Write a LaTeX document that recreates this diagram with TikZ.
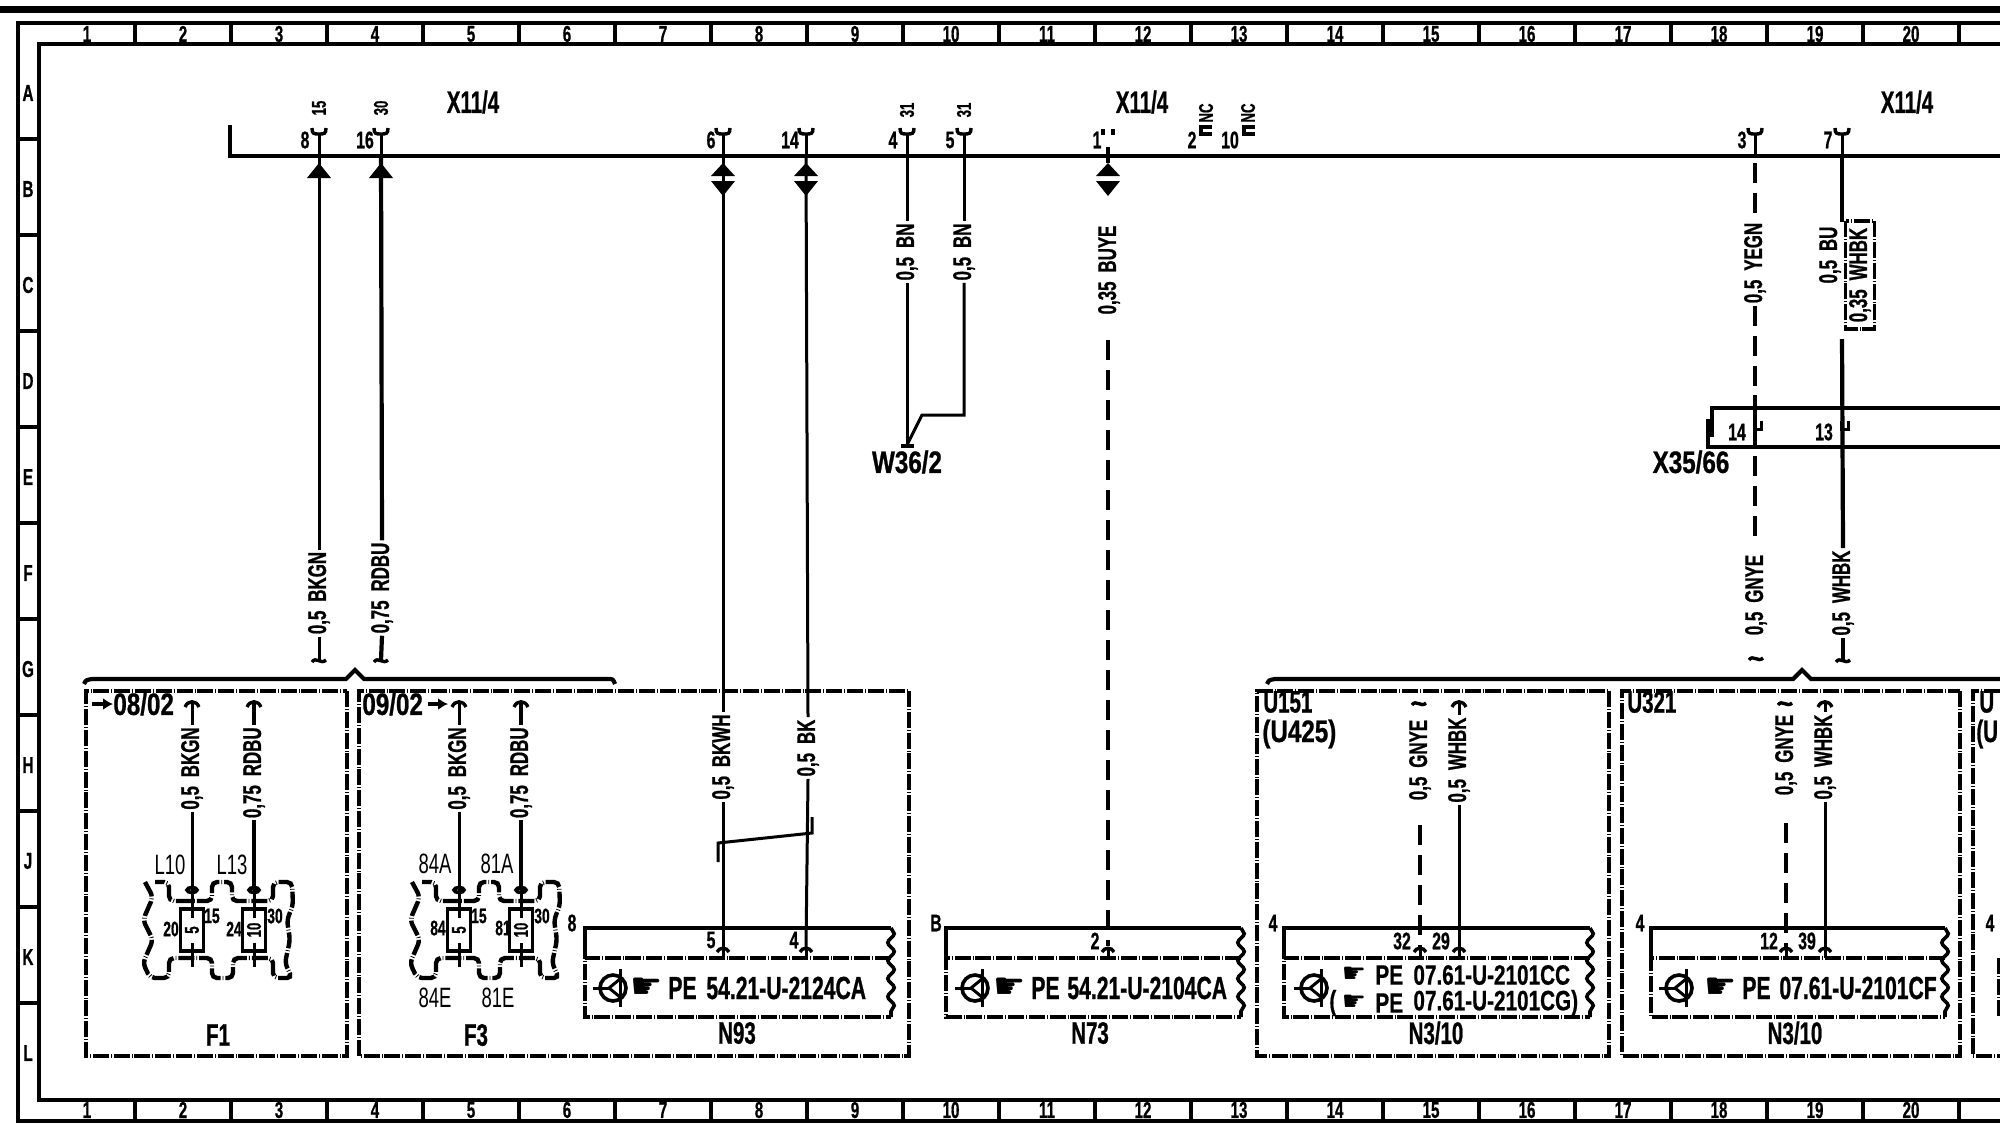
\documentclass[tikz,border=0pt]{standalone}
\usepackage{fontspec}
\usetikzlibrary{arrows.meta,decorations.pathmorphing}
\newfontfamily\lab[FakeStretch=0.66]{Liberation Sans}
\newfontfamily\labh[FakeStretch=0.66,BoldFeatures={FakeBold=0.8}]{Liberation Sans}
\newfontfamily\labw[FakeStretch=0.78,BoldFeatures={FakeBold=0.8}]{Liberation Sans}
\newfontfamily\labc[FakeStretch=0.74,BoldFeatures={FakeBold=0.6}]{Liberation Sans}
\newfontfamily\symb{DejaVu Sans}
\newcommand{\fsz}[1]{\fontsize{#1}{#1}\selectfont}
\tikzset{
  frameline/.style={line width=1.8pt},
  wire/.style={line width=1.5pt},
  thickwire/.style={line width=2.1pt},
  dashwire/.style={line width=1.9pt,dash pattern=on 10pt off 5pt},
  thindash/.style={line width=1.6pt,dash pattern=on 10pt off 5pt},
  boxdash/.style={line width=1.9pt,dash pattern=on 8pt off 1pt on 0.4pt off 1pt},
  wavy/.style={line width=1.8pt,decorate,decoration={snake,amplitude=1.6pt,segment length=9pt}},
  wirelab/.style={rotate=90,inner sep=1pt,font=\labh\bfseries\fsz{12.8}},
  pinlab/.style={inner sep=0pt,font=\labh\bfseries\fsz{12}},
  fuselab/.style={inner sep=0pt,font=\labh\bfseries\fsz{10.5}},
  thinlab/.style={inner sep=0pt,font=\lab\fsz{14}},
  toplab/.style={rotate=90,inner sep=0pt,font=\labh\bfseries\fsz{10}},
  namelab/.style={inner sep=0pt,font=\labh\bfseries\fsz{15.5}},
  widelab/.style={inner sep=0pt,font=\labw\bfseries\fsz{15.5}},
  codelab/.style={inner sep=0pt,font=\labh\bfseries\fsz{16},anchor=west},
  twolab/.style={inner sep=0pt,font=\labc\bfseries\fsz{14},anchor=west},
  gridlab/.style={inner sep=0pt,font=\labh\bfseries\fsz{11.5}},
  handlab/.style={inner sep=0pt,font=\symb\fsz{18}},
  handtwo/.style={inner sep=0pt,font=\symb\fsz{13.5}},
}
%% Pin on the bus: #1 name, #2 x
\newcommand{\buspin}[2]{
  \coordinate (#1) at (#2,156);
  \draw[line width=1.7pt] (#2-7,128) .. controls (#2-7,134) and (#2-5,134) .. (#2,134)
    .. controls (#2+5,134) and (#2+7,134) .. (#2+7,128);
  \draw[wire] (#2,134) -- (#1);
}
\newcommand{\uptri}[1]{\fill (#1,163) -- (#1+12,178) -- (#1-12,178) -- cycle;}
\newcommand{\twotri}[1]{
  \fill (#1,163) -- (#1+12,176) -- (#1-12,176) -- cycle;
  \fill (#1,196) -- (#1+12,181) -- (#1-12,181) -- cycle;
}
\newcommand{\wavecap}[2]{\draw[line width=1.7pt] (#1-7,#2+2) .. controls (#1-3,#2-4) and (#1+2,#2+5) .. (#1+7,#2);}
\newcommand{\capup}[2]{\draw[line width=1.7pt] (#1-7,#2+5) .. controls (#1-4,#2-2) and (#1+4,#2-2) .. (#1+7,#2+5);}
\newcommand{\boxpin}[1]{
  \draw[line width=1.7pt] (#1-6,952) .. controls (#1-4,947) and (#1+4,947) .. (#1+6,952);
  \draw[wire] (#1,948) -- (#1,958);
}
%% Transistor mark: #1 x, #2 y
\newcommand{\transis}[2]{
  \draw[line width=1.8pt] (#1,#2) circle [radius=13];
  \draw[line width=1.5pt] (#1-20,#2) -- (#1-4,#2);
  \draw[line width=1.5pt] (#1+7,#2-19) -- (#1+7,#2+19);
  \draw[line width=1.5pt] (#1+7,#2-9) -- (#1-4,#2) -- (#1+7,#2+9);
}
%% Plug box: #1 left, #2 right
\newcommand{\plugbox}[2]{
  \draw[line width=2pt] (#1,958) -- (#1,928) -- (#2,928);
  \draw[boxdash] (#2,958) -- (#1,958) -- (#1,1017) -- (#2,1017);
  \draw[wavy] (#2,928) -- (#2,1017);
}
%% Fuse: #1 x, #2 value
\newcommand{\fuseunit}[3]{
  \draw[line width=1.7pt] (#1-11.5,909) rectangle (#1+11.5,951);
  \draw[wire] (#1,890) -- (#1,918);
  \draw[wire] (#1,943) -- (#1,967);
  \draw[line width=1.8pt] (#1,890) ellipse [x radius=5,y radius=2.5];
  \node[toplab] (#3) at (#1,930) {#2};
}
\begin{document}
\begin{tikzpicture}[x=0.5pt,y=-0.5pt]
        \useasboundingbox (0,0) rectangle (2000,1136);
        %% Frame
        \fill (0,6) rectangle (2000,13);
        \draw[frameline] (2000,23) -- (18,23) -- (18,1121) -- (2000,1121);
        \draw[frameline] (2000,44) -- (39,44) -- (39,1100) -- (2000,1100);
        \foreach \c in {0,...,19} {
            \draw[frameline] (135+96*\c,23) -- (135+96*\c,44);
            \draw[frameline] (135+96*\c,1100) -- (135+96*\c,1121);
        }
        \foreach \c in {1,...,20} {
            \node[gridlab] (ct\c) at (87+96*\c-96,34) {\c};
            \node[gridlab] (cb\c) at (87+96*\c-96,1110) {\c};
        }
        \foreach \k in {0,...,9} {
            \draw[frameline] (18,139+96*\k) -- (39,139+96*\k);
        }
        \foreach \r [count=\k from 0] in {A,B,C,D,E,F,G,H,J,K,L} {
            \node[gridlab] (row\r) at (28,93+96*\k) {\r};
        }
        %% Bus
        \coordinate (busa) at (230,125);
        \coordinate (busb) at (230,156);
        \coordinate (busc) at (2000,156);
        \draw[line width=2pt] (busa) -- (busb) -- (busc);
        \buspin{pa}{319}
        \buspin{pb}{381}
        \buspin{pc}{723}
        \buspin{pd}{806}
        \buspin{pe}{907}
        \buspin{pf}{964}
        \buspin{ph}{1755}
        \buspin{pi}{1842}
        \coordinate (pg) at (1108,147);
        \fill (1101,129) rectangle (1105,135);
        \fill (1111,129) rectangle (1115,135);
        \draw[line width=1.7pt] (1212,127) -- (1201,127) -- (1201,134) -- (1212,134);
        \draw[line width=1.7pt] (1255,127) -- (1244,127) -- (1244,134) -- (1255,134);
        %% Labels on the bus
        \node[namelab] (xa) at (473,102) {X11/4};
        \node[namelab] (xb) at (1142,102) {X11/4};
        \node[namelab] (xc) at (1907,102) {X11/4};
        \node[toplab] (ta) at (319,108) {15};
        \node[toplab] (tb) at (381,108) {30};
        \node[toplab] (te) at (907,110) {31};
        \node[toplab] (tf) at (964,110) {31};
        \node[toplab] (tg) at (1206,113) {NC};
        \node[toplab] (th) at (1248,113) {NC};
        \node[pinlab] (na) at (305,140) {8};
        \node[pinlab] (nb) at (365,140) {16};
        \node[pinlab] (nc) at (711,140) {6};
        \node[pinlab] (nd) at (790,140) {14};
        \node[pinlab] (ne) at (893,140) {4};
        \node[pinlab] (nf) at (950,140) {5};
        \node[pinlab] (ng) at (1097,140) {1};
        \node[pinlab] (nh) at (1192,140) {2};
        \node[pinlab] (ni) at (1230,140) {10};
        \node[pinlab] (nj) at (1742,140) {3};
        \node[pinlab] (nk) at (1828,140) {7};
        %% Wire labels
        \node[wirelab] (wa) at (319,593) {0,5~\,BKGN};
        \node[wirelab] (wb) at (382,588) {0,75~\,RDBU};
        \node[wirelab] (wc) at (723,757) {0,5~\,BKWH};
        \node[wirelab] (wd) at (808,748) {0,5~\,BK};
        \node[wirelab] (we) at (907,252) {0,5~\,BN};
        \node[wirelab] (wf) at (964,252) {0,5~\,BN};
        \node[wirelab] (wg) at (1109,270) {0,35~\,BUYE};
        \node[wirelab] (wh) at (1755,263) {0,5~\,YEGN};
        \node[wirelab] (wi) at (1830,255) {0,5~\,BU};
        \node[wirelab,boxdash,draw,minimum width=54pt,minimum height=14.5pt,inner sep=0pt] (wj) at (1860,275) {0,35~\,WHBK};
        \node[wirelab] (wk) at (1756,595) {0,5~\,GNYE};
        \node[wirelab] (wl) at (1843,593) {0,5~\,WHBK};
        %% Wires from the bus
        \coordinate (fa) at (319,660);
        \coordinate (fb) at (381,660);
        \draw[wire] (pa) -- (wa.east);
        \draw[thickwire] (pb) -- (wb.east);
        \draw[wire] (wa.west) -- (fa);
        \draw[thickwire] (wb.west) -- (fb);
        \wavecap{319}{660}
        \wavecap{381}{660}
        \uptri{319}
        \uptri{381}
        \twotri{723}
        \twotri{806}
        \twotri{1108}
        \coordinate (cc) at (723,948);
        \coordinate (cd) at (806,948);
        \draw[wire] (pc) -- (wc.east);
        \draw[wire] (wc.west) -- (cc);
        \draw[wire] (pd) -- (wd.east);
        \draw[wire] (wd.west) -- (cd);
        \draw[wire] (718,862) -- (718,843) -- (812,833) -- (812,817);
        \coordinate (we1) at (907,445);
        \coordinate (wf1) at (964,415);
        \coordinate (wf2) at (922,415);
        \draw[wire] (pe) -- (we.east);
        \draw[wire] (pf) -- (wf.east);
        \draw[wire] (we.west) -- (we1);
        \draw[wire] (wf.west) -- (wf1) -- (wf2) -- (we1);
        \draw[line width=1.7pt] (901,446) -- (914,446);
        \node[widelab] (wthree) at (907,462) {W36/2};
        \coordinate (wg1) at (1108,340);
        \coordinate (cg) at (1108,946);
        \draw[line width=2pt] (pg) -- (1108,163);
        \draw[dashwire] (wg1) -- (cg);
        %% Connector X35/66
        \draw[line width=1.7pt] (1712,437) -- (1712,408) -- (2000,408);
        \draw[line width=1.7pt] (1708,419) -- (1708,447) -- (2000,447);
        \node[widelab] (xd) at (1691,462) {X35/66};
        \node[pinlab] (nl) at (1737,432) {14};
        \node[pinlab] (nm) at (1824,432) {13};
        \coordinate (hb) at (1755,163);
        \coordinate (hc) at (1755,540);
        \coordinate (ic) at (1842,339);
        \coordinate (fk) at (1756,658);
        \coordinate (fl) at (1843,660);
        \draw[dashwire] (hb) -- (wh.east);
        \draw[dashwire] (wh.west) -- (hc);
        \draw[line width=2pt] (1755,395) -- (1755,448);
        \draw[thickwire] (pi) -- (1842,222);
        \draw[thickwire] (ic) -- (wl.east);
        \draw[line width=1.5pt] (1754,421) -- (1754,429) -- (1761,429) -- (1761,421);
        \draw[line width=1.5pt] (1841,421) -- (1841,429) -- (1848,429) -- (1848,421);
        \wavecap{1756}{658}
        \draw[thickwire] (wl.west) -- (fl);
        \wavecap{1843}{660}
        %% Brackets
        \draw[line width=2.1pt] (84,684) .. controls (86,680) .. (92,679) -- (346,679)
            -- (355,670) -- (364,679) -- (608,679) .. controls (613,679) .. (615,684);
        \draw[line width=2.1pt] (1267,684) .. controls (1269,680) .. (1275,679) -- (1793,679)
            -- (1802,670) -- (1811,679) -- (2000,679);
        %% Boxes
        \draw[boxdash] (347,691) rectangle (86,1056);
        \draw[boxdash] (909,691) rectangle (359,1056);
        \draw[boxdash] (1609,691) rectangle (1257,1056);
        \draw[boxdash] (1960,691) rectangle (1622,1056);
        \draw[boxdash] (2000,691) -- (1973,691) -- (1973,1056) -- (2000,1056);
        \node[namelab] (bf) at (218,1035) {F1};
        \node[namelab] (bg) at (476,1035) {F3};
        \node[namelab] (bh) at (737,1033) {N93};
        \node[namelab] (bi) at (1090,1033) {N73};
        \node[namelab] (bj) at (1436,1033) {N3/10};
        \node[namelab] (bk) at (1795,1033) {N3/10};
        \node[widelab,anchor=west] (da) at (113,704) {08/02};
        \node[widelab,anchor=west] (db) at (362,704) {09/02};
        \coordinate (da1) at (92,704);
        \coordinate (db1) at (428,704);
        \coordinate (db2) at (448,704);
        \draw[line width=1.7pt,-{Latex[length=5pt,width=6pt]}] (da1) -- (da.west);
        \draw[line width=1.7pt,-{Latex[length=5pt,width=6pt]}] (db1) -- (db2);
        \node[namelab,anchor=west] (ua) at (1263,702) {U151};
        \node[widelab,anchor=west] (ub) at (1262,734) {(U425)};
        \node[namelab,anchor=west] (uc) at (1627,702) {U321};
        \node[namelab,anchor=west] (ud) at (1979,702) {U};
        \node[namelab,anchor=west] (ue) at (1976,734) {(U};
        %% Fuses
        \foreach \dx in {0,267} {
            \begin{scope}[xshift=\dx*0.5pt]
                \draw[boxdash,line width=2.2pt,rounded corners=2.5pt] (145,882) -- (153,897) -- (143,920) -- (153,940) -- (143,963) -- (150,978) -- (169,978) -- (169,958) -- (212,958) -- (212,978) -- (233,978) -- (233,958) -- (273,958) -- (273,978) -- (292,978) -- (285,963) -- (290,940) -- (287,920) -- (293,905) -- (292,882) -- (273,882) -- (273,901) -- (232,901) -- (232,882) -- (212,882) -- (212,901) -- (169,901) -- (169,882) -- (155,882);
            \end{scope}
        }
        \fuseunit{192}{5}{fa1}
        \fuseunit{254}{10}{fa2}
        \fuseunit{459}{5}{fb1}
        \fuseunit{521}{10}{fb2}
        \node[thinlab] (la) at (170,865) {L10};
        \node[thinlab] (lb) at (232,865) {L13};
        \node[thinlab] (lc) at (435,864) {84A};
        \node[thinlab] (ld) at (497,864) {81A};
        \node[thinlab] (le) at (435,998) {84E};
        \node[thinlab] (lf) at (498,998) {81E};
        \node[fuselab] (ma) at (171,929) {20};
        \node[fuselab] (mb) at (212,916) {15};
        \node[fuselab] (mc) at (234,929) {24};
        \node[fuselab] (md) at (275,916) {30};
        \node[fuselab] (me) at (438,928) {84};
        \node[fuselab] (mf) at (479,916) {15};
        \node[fuselab] (mg) at (503,928) {81};
        \node[fuselab] (mh) at (542,916) {30};
        %% Wires in the fuse boxes
        \foreach \nm/\px/\tx/\st in {fc/192/{0,5~\,BKGN}/wire,fd/254/{0,75~\,RDBU}/thickwire,fe/459/{0,5~\,BKGN}/wire,ff/521/{0,75~\,RDBU}/thickwire} {
            \node[wirelab,anchor=east] (\nm) at (\px,725) {\tx};
            \coordinate (\nm a) at (\px,890);
            \coordinate (\nm b) at (\px,703);
            \draw[\st] (\nm.west) -- (\nm a);
            \draw[\st] (\nm.east) -- (\nm b);
            \capup{\px}{702}
        }
        %% Plug boxes
        \plugbox{585}{891}
        \plugbox{946}{1241}
        \plugbox{1284}{1590}
        \plugbox{1651}{1945}
        \boxpin{723}
        \boxpin{806}
        \boxpin{1108}
        \boxpin{1420}
        \boxpin{1459}
        \boxpin{1786}
        \boxpin{1825}
        \node[pinlab] (ka) at (572,923) {8};
        \node[pinlab] (kb) at (936,923) {B};
        \node[pinlab] (kc) at (1273,923) {4};
        \node[pinlab] (kd) at (1640,923) {4};
        \node[pinlab] (ke) at (1990,923) {4};
        \node[pinlab] (kf) at (711,940) {5};
        \node[pinlab] (kg) at (794,940) {4};
        \node[pinlab] (kh) at (1095,941) {2};
        \node[pinlab] (ki) at (1402,941) {32};
        \node[pinlab] (kj) at (1441,941) {29};
        \node[pinlab] (kk) at (1769,941) {12};
        \node[pinlab] (kl) at (1807,941) {39};
        \draw[boxdash] (1999,958) -- (1999,1017);
        %% Codes
        \transis{613}{988}
        \node[handlab] (ha) at (647,988) {☛};
        \node[codelab] (pa1) at (668,988) {PE};
        \node[codelab] (pa2) at (706,988) {54.21-U-2124CA};
        \transis{975}{988}
        \node[handlab] (hb1) at (1010,988) {☛};
        \node[codelab] (pb1) at (1031,988) {PE};
        \node[codelab] (pb2) at (1067,988) {54.21-U-2104CA};
        \transis{1314}{988}
        \node[handtwo] (hc1) at (1354,975) {☛};
        \node[twolab] (pc1) at (1375,975) {PE};
        \node[twolab] (pc2) at (1413,975) {07.61-U-2101CC};
        \node[twolab] (pc3) at (1329,1003) {(};
        \node[handtwo] (hc2) at (1354,1003) {☛};
        \node[twolab] (pc4) at (1375,1003) {PE};
        \node[twolab] (pc5) at (1413,1003) {07.61-U-2101CG)};
        \transis{1679}{988}
        \node[handlab] (hd1) at (1721,988) {☛};
        \node[codelab] (pd1) at (1742,988) {PE};
        \node[codelab] (pd2) at (1779,988) {07.61-U-2101CF};
        %% Wires in the control units
        \node[wirelab] (ga) at (1420,760) {0,5~\,GNYE};
        \node[wirelab] (gb) at (1459,760) {0,5~\,WHBK};
        \node[wirelab] (gc) at (1786,755) {0,5~\,GNYE};
        \node[wirelab] (gd) at (1825,757) {0,5~\,WHBK};
        \coordinate (ga1) at (1420,825);
        \coordinate (ga2) at (1420,948);
        \coordinate (gb1) at (1459,948);
        \coordinate (gb2) at (1459,703);
        \coordinate (gc1) at (1786,823);
        \coordinate (gc2) at (1786,948);
        \coordinate (gd1) at (1825,948);
        \coordinate (gd2) at (1825,703);
        \draw[thindash] (ga1) -- (ga2);
        \draw[wire] (gb.west) -- (gb1);
        \draw[wire] (gb.east) -- (gb2);
        \draw[thindash] (gc1) -- (gc2);
        \draw[wire] (gd.west) -- (gd1);
        \draw[wire] (gd.east) -- (gd2);
        \wavecap{1419}{703}
        \capup{1459}{702}
        \wavecap{1785}{703}
        \capup{1825}{702}
    \end{tikzpicture}
\end{document}
